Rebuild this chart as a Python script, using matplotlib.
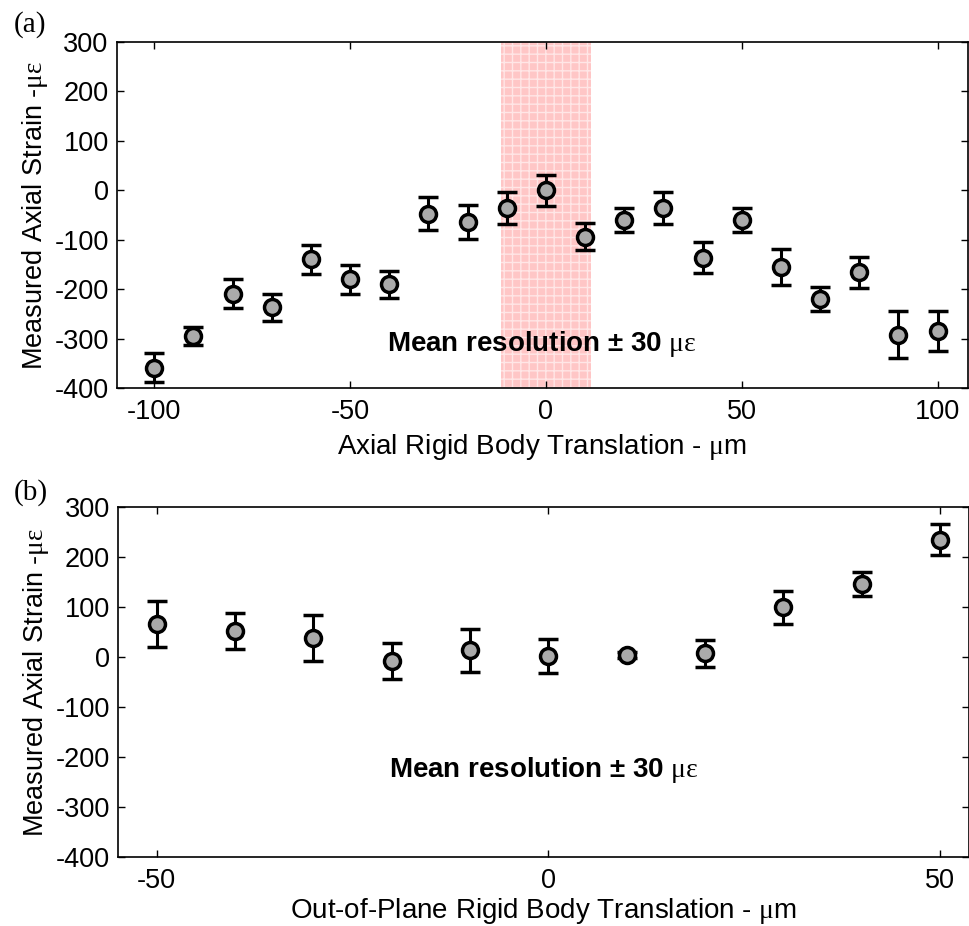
import matplotlib
matplotlib.use("Agg")
import matplotlib.pyplot as plt

plt.rcParams['font.family'] = 'Liberation Sans'
plt.rcParams['axes.unicode_minus'] = False
plt.rcParams['hatch.linewidth'] = 1.0
# greek units drawn in a serif face like the original Symbol font
plt.rcParams['mathtext.fontset'] = 'custom'
plt.rcParams['mathtext.rm'] = 'Liberation Serif'
plt.rcParams['mathtext.it'] = 'Liberation Serif'
plt.rcParams['mathtext.bf'] = 'Liberation Serif'

### panel (a): axial rigid body translation
x_axial = [-100, -90, -80, -70, -60, -50, -40, -30, -20, -10,
           0, 10, 20, 30, 40, 50, 60, 70, 80, 90, 100]
strain_axial = [-359, -295, -209, -237, -140, -180, -190, -47, -64, -36,
                0, -94, -60, -36, -136, -60, -155, -220, -166, -292, -285]
err_axial = [29, 19, 29, 28, 30, 29, 27, 33, 35, 33,
             31, 27, 24, 33, 31, 24, 37, 25, 32, 47, 40]

### panel (b): out-of-plane rigid body translation
x_oop = [-50, -40, -30, -20, -10, 0, 10, 20, 30, 40, 50]
strain_oop = [67, 53, 39, -7, 14, 3, 4, 8, 100, 146, 235]
err_oop = [46, 36, 46, 36, 43, 34, 6, 27, 33, 24, 31]

band = [-11.5, 11.5]
yticks = [-400, -300, -200, -100, 0, 100, 200, 300]
res_text = u'Mean resolution \u00b1 30 $\u03bc\u03b5$'

fig = plt.figure(figsize=(9.7, 9.26), dpi=100)
ax1 = fig.add_axes([0.1206, 0.581, 0.877, 0.3736])
ax2 = fig.add_axes([0.122, 0.0745, 0.877, 0.3777])


def style(ax, xt, xl, xlabel, lpad):
    ax.errorbar(xt, xl[0], yerr=xl[1], fmt='o', color='black',
                mfc='#aaaaaa', mec='black', mew=2.5, ms=11.5,
                elinewidth=2.2, capsize=7, capthick=2.2, zorder=3)
    ax.set_ylim(-400, 300)
    ax.set_yticks(yticks)
    ax.tick_params(direction='in', length=5, width=1, labelsize=19.5,
                   top=True, right=True)
    ax.tick_params(axis='x', pad=8)
    ax.tick_params(axis='y', pad=6)
    for s in ax.spines.values():
        s.set_linewidth(1.2)
    ax.set_xlabel(xlabel, fontsize=20, labelpad=lpad)
    ax.set_ylabel(u'Measured Axial Strain -$\u03bc\u03b5$', fontsize=19.5, labelpad=3)


style(ax1, x_axial, (strain_axial, err_axial), u'Axial Rigid Body Translation - $\u03bc$m', 5)
ax1.set_xlim(-109.5, 107.7)
ax1.set_xticks([-100, -50, 0, 50, 100])
ax1.axvspan(band[0], band[1], facecolor='#ffc6c6', edgecolor='#ffe6e6',
            hatch='++', linewidth=0, zorder=1)
ax1.text(0.5, 0.128, res_text, transform=ax1.transAxes,
         ha='center', va='center', fontsize=20, fontweight='bold')

style(ax2, x_oop, (strain_oop, err_oop), u'Out-of-Plane Rigid Body Translation - $\u03bc$m', 1)
ax2.set_xlim(-54.9, 53.7)
ax2.set_xticks([-50, 0, 50])
ax2.text(0.5, 0.25, res_text, transform=ax2.transAxes,
         ha='center', va='center', fontsize=20, fontweight='bold')

fig.text(0.014, 0.973, '(a)', fontsize=21, family='Liberation Serif', va='center')
fig.text(0.014, 0.468, '(b)', fontsize=21, family='Liberation Serif', va='center')

fig.savefig('out.png', dpi=100)
